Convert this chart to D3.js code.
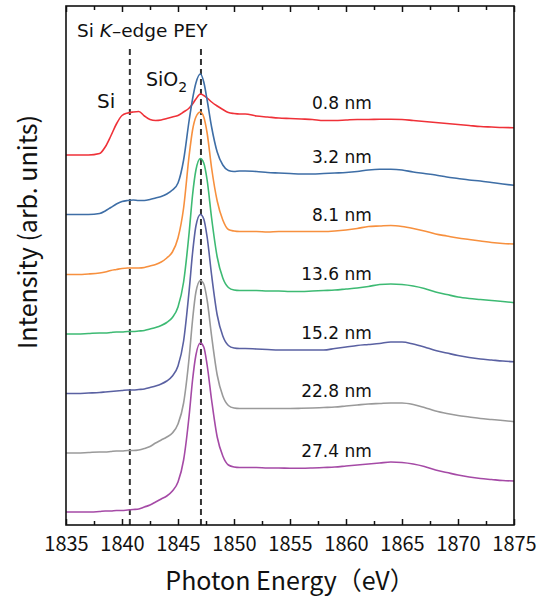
<!DOCTYPE html>
<html>
<head>
<meta charset="utf-8">
<script src="https://cdn.jsdelivr.net/npm/d3@7"></script>
<style>
  html, body { margin: 0; padding: 0; background: #fff; }
  svg { display: block; }
  text { font-family: "Noto Sans CJK JP", "Noto Sans", sans-serif; fill: #111; }
  .anno { font-family: "DejaVu Sans", sans-serif; }
</style>
</head>
<body>
<svg id="chart" width="546" height="596"></svg>
<script>
// ---------- data ----------
const energy = [1835,1836,1837,1838,1838.5,1839,1839.5,1840,1840.5,1841,1841.5,1842,1842.5,1843,1843.5,1844,1844.5,1845,1845.5,1846,1846.3,1846.6,1847,1847.3,1847.6,1848,1848.5,1849,1849.5,1850,1850.5,1851,1852,1853,1854,1855,1856,1857,1858,1859,1860,1861,1862,1863,1864,1865,1866,1867,1868,1869,1870,1871,1872,1873,1874,1875];

const sampleLabels = ["0.8 nm","3.2 nm","8.1 nm","13.6 nm","15.2 nm","22.8 nm","27.4 nm"];
const sampleColors = ["#ef3138","#3e6ea6","#f7903e","#3dba73","#5a61a2","#9a9a9a","#a54aa6"];

const int08 = [370,370,370,371.5, 378,389,401,409.5,412,413,413.5,409,405.5,404.5,405,406.5,408,409.5,413, 417,421,426,431,429.5,427,423, 419,415.5,412.5,411.5,411,411, 409,408,407,406.5,406,405.5,404.5,404.5,405,405.5,405.5,405.7,405.7,405.5,404.5,403.5,402.5,401.5,400.5,399.5,398.5,398,397.5,397.3];
const int32 = [310.5,310.5,310.5,311.5, 314,317.5,321,323.5,324.5,325,324.5,324.5,325.5,327,328.5,331,335,342,365, 405,426,442,451,443,425,398, 373,360,354.5,353.5,354,354, 353.5,352.5,352,351.5,351,351,351.5,352,352.5,353.5,355,355.7,355.7,355,353,351.5,350,348,346.5,345,344,342.5,341,339.7];
const int81 = [250.5,250.5,251,252, 253,254.5,255.5,256.5,257,257,257,257.5,259,260.5,263,267,273,287,317, 370,395,408,413,408,392,357, 324,305,295.5,294,293.5,293.5, 293.5,293,293.5,293.5,293.5,293.5,293.5,294,295,296.5,298.5,299,299.5,298.5,296.5,294,291,289,287,285.5,284,282.5,281.5,281];
const int136 = [191,191,191.5,192, 192,192.5,193,193,193.5,193.5,194,194.5,196,197.5,199.5,202.5,207.5,218,243, 293,330,355,366.5,362,345,307, 268,247,237.5,235,234.5,234.5, 234.5,234,234,233.5,233.5,234,234.5,235,236,237,238.5,240.5,241,240.5,239,236.5,233,230.5,228,226.5,225.5,224.5,223.5,222.3];
const int152 = [131.5,131.5,132,132.5, 133,133.5,134,134.5,135,135,135.5,136,137.5,139,141,144,149,159,184, 235,272,299,310.5,306,288,250, 210,189,179.5,177,176.5,176.5, 176,175.5,175,175,175,175,175,176.5,178,179.5,180.5,181.5,183,183,181,178,174.5,172,169.5,167.5,166,165,164,163.3];
const int228 = [72,72,72.5,73, 73,73.5,74,74,74.5,74.5,75,76.5,78.5,82,85,88,92,101,122, 168,205,233,244.5,241,225,189, 150,129,119.5,117,116.5,116.5, 116.5,116.5,116.5,116.5,116.7,117,117.5,118,119,120,121,121.5,122,122,120.5,117.5,114,111.5,109.5,108,106.5,105.5,104.5,103.3];
const int274 = [13,13,13,13.5, 14,14,14.5,14.5,15,15.5,16,18,20,23,26,29,34,43,65, 110,145,170,182,178,160,125, 88,69,60,58,57.5,57.5, 57.5,57,57,56.7,56.7,57,57.5,58,59,60,61,62,63,62.5,61,58.5,55,52.5,50,48,46.5,45.5,44.5,44];

const seriesValues = [int08, int32, int81, int136, int152, int228, int274];

const xTicksMajor = [1835,1840,1845,1850,1855,1860,1865,1870,1875];
const xTicksMinor = [1837.5,1842.5,1847.5,1852.5,1857.5,1862.5,1867.5,1872.5];
const refLines = [1840.7, 1847.05];
const labelEnergy = 1857;

// ---------- layout ----------
const svg = d3.select("#chart");
const mLeft = 66, mRight = 514, mTop = 6, mBottom = 525;

const x = d3.scaleLinear().domain([1835, 1875]).range([mLeft, mRight]);
const y = d3.scaleLinear().domain([0, 519]).range([mBottom, mTop]);

// reference dashed lines
svg.append("g").selectAll("line").data(refLines).join("line")
  .attr("x1", d => x(d)).attr("x2", d => x(d))
  .attr("y1", y(476)).attr("y2", mBottom)
  .attr("stroke", "#333").attr("stroke-width", 2)
  .attr("stroke-dasharray", "6,4");

// curves
const line = d3.line()
  .x((d, i) => x(energy[i]))
  .y(d => y(d))
  .curve(d3.curveMonotoneX);

svg.append("g").selectAll("path").data(seriesValues).join("path")
  .attr("d", d => line(d))
  .attr("fill", "none")
  .attr("stroke", (d, i) => sampleColors[i])
  .attr("stroke-width", 1.6)
  .attr("stroke-linejoin", "round");

// sample labels
const li = energy.indexOf(labelEnergy);
svg.append("g").selectAll("text").data(sampleLabels).join("text")
  .attr("class", "anno")
  .attr("x", x(1862.3))
  .attr("y", (d, i) => y(seriesValues[i][li]) - 11)
  .attr("text-anchor", "end")
  .attr("font-size", 17)
  .text(d => d);

// axes frame and ticks
function styleTicks(g) {
  g.select(".domain").remove();
  g.selectAll(".tick line").attr("stroke", "#111").attr("stroke-width", 1.5);
}
const gB = svg.append("g").attr("transform", `translate(0,${mBottom})`)
  .call(d3.axisBottom(x).tickValues(xTicksMajor).tickSize(-6).tickPadding(12).tickFormat(d3.format("d")));
styleTicks(gB);
gB.selectAll(".tick text").attr("font-size", 20).attr("fill", "#111")
  .attr("font-family", "'Noto Sans CJK JP', sans-serif");

const gBm = svg.append("g").attr("transform", `translate(0,${mBottom})`)
  .call(d3.axisBottom(x).tickValues(xTicksMinor).tickSize(-4).tickFormat(""));
styleTicks(gBm);

const gT = svg.append("g").attr("transform", `translate(0,${mTop})`)
  .call(d3.axisTop(x).tickValues(xTicksMajor).tickSize(-6).tickFormat(""));
styleTicks(gT);
const gTm = svg.append("g").attr("transform", `translate(0,${mTop})`)
  .call(d3.axisTop(x).tickValues(xTicksMinor).tickSize(-4).tickFormat(""));
styleTicks(gTm);

svg.append("rect")
  .attr("x", mLeft).attr("y", mTop)
  .attr("width", mRight - mLeft).attr("height", mBottom - mTop)
  .attr("fill", "none").attr("stroke", "#111").attr("stroke-width", 1.6);

// axis titles
svg.append("text")
  .attr("x", (mLeft + mRight) / 2).attr("y", 590)
  .attr("text-anchor", "middle").attr("font-size", 25)
  .text("Photon Energy（eV）");

svg.append("text")
  .attr("transform", `translate(37,232) rotate(-90)`)
  .attr("text-anchor", "middle").attr("font-size", 25)
  .text("Intensity (arb. units)");

// in-plot annotations
const title = svg.append("text").attr("class", "anno").attr("x", 77).attr("y", 37).attr("font-size", 18.5);
title.append("tspan").text("Si ");
title.append("tspan").attr("font-style", "italic").text("K");
title.append("tspan").text("–edge PEY");

svg.append("text").attr("class", "anno").attr("x", 97).attr("y", 108).attr("font-size", 20).text("Si");

const sio2 = svg.append("text").attr("class", "anno").attr("x", 146).attr("y", 86).attr("font-size", 19);
sio2.append("tspan").text("SiO");
sio2.append("tspan").attr("font-size", 14).attr("dy", 6).text("2");
</script>
</body>
</html>
